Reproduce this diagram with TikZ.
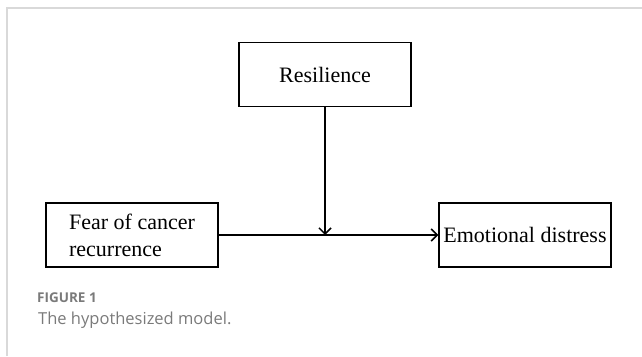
\documentclass[tikz,border=0pt]{standalone}
\usepackage{xcolor}
\usepackage{fontspec}
\setmainfont{Liberation Serif}
\newfontfamily\capfont{Open Sans}
\usepackage{tikz}
\usetikzlibrary{arrows.meta}

\definecolor{framegray}{HTML}{D9D9D9}
\definecolor{capgray}{HTML}{7A7A7A}

\begin{document}
\begin{tikzpicture}[x=1pt,y=-1pt]
			\tikzstyle{box} = [draw, line width=1.5pt, minimum width=172pt, minimum height=64pt, inner sep=0pt, font=\fontsize{22}{27}\selectfont]
			\tikzstyle{caption} = [anchor=west, inner sep=0pt, text=capgray]
			\tikzset{edge/.style = {line width=1.5pt, -{Straight Barb[length=6pt,width=12pt]}}}

			\useasboundingbox (0,0) rectangle (642,356);
			\draw[framegray, line width=1.2pt] (7,356) -- (7,8) -- (642,8);

			\node[box](resilience) at (325,74.5) {Resilience};
			\node[box, align=left](fear) at (132,235) {Fear of cancer\\recurrence};
			\node[box](distress) at (525,235) {Emotional distress};
			\coordinate (meet) at (resilience.south |- fear.east);

			\draw[edge](fear) to (distress);
			\draw[edge](resilience) to (meet);

			\node[caption, font=\capfont\bfseries\fontsize{13.5}{16}\selectfont](figno) at (37,298) {FIGURE 1};
			\node[caption, font=\capfont\fontsize{16.5}{19}\selectfont](figtext) at (38,320) {The hypothesized model.};

			\end{tikzpicture}
\end{document}
